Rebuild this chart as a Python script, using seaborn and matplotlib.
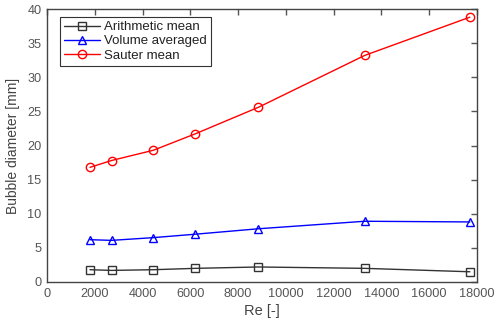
import matplotlib
matplotlib.use("Agg")
import matplotlib.pyplot as plt
import seaborn as sns
import pandas as pd

re_vals = [1800, 2700, 4450, 6200, 8850, 13300, 17700]
arithmetic = [1.8, 1.7, 1.8, 2.0, 2.2, 2.0, 1.5]
volume = [6.2, 6.1, 6.5, 7.0, 7.8, 8.9, 8.8]
sauter = [16.8, 17.8, 19.3, 21.7, 25.6, 33.2, 38.8]
series_names = ["Arithmetic mean", "Volume averaged", "Sauter mean"]
colors = ["#333333", "#0000ff", "#ff0000"]
markers = ["s", "^", "o"]

df = pd.DataFrame({
    "Re": re_vals * 3,
    "d": arithmetic + volume + sauter,
    "series": [series_names[0]] * 7 + [series_names[1]] * 7 + [series_names[2]] * 7,
})

sns.set_style("white")
plt.rcParams["font.family"] = ["Liberation Sans", "DejaVu Sans"]

fig = plt.figure(figsize=(4.96, 3.25), dpi=100)
ax = fig.add_axes([47 / 496, 1 - 282 / 325, 430 / 496, 273 / 325])

sns.lineplot(data=df, x="Re", y="d", hue="series", style="series",
             palette=colors, markers=markers, dashes=False, ax=ax,
             markersize=6, markerfacecolor="none", markeredgewidth=1.0,
             linewidth=1.0)
for line, c in zip(ax.get_lines(), colors):
    line.set_markeredgecolor(c)
    line.set_markerfacecolor("none")

ax.set_xlim(0, 18000)
ax.set_ylim(0, 40)
ax.set_xticks(range(0, 18001, 2000))
ax.set_yticks(range(0, 41, 5))
ax.set_xlabel("Re [-]", fontsize=10.5, color="#444444", labelpad=3)
ax.set_ylabel("Bubble diameter [mm]", fontsize=10, color="#444444", labelpad=5)
ax.tick_params(direction="in", top=True, right=True, length=4, width=1,
               colors="#555555", labelsize=9.2, labelcolor="#555555", pad=4)
for s in ax.spines.values():
    s.set_color("#444444")
    s.set_linewidth(1.0)

h, l = ax.get_legend_handles_labels()
for hh, c in zip(h, colors):
    hh.set_markerfacecolor("none")
    hh.set_markeredgecolor(c)
leg = ax.legend(h, l, loc="upper left", bbox_to_anchor=(0.02, 0.985), fontsize=9.5,
                frameon=True, fancybox=False, edgecolor="#333333", framealpha=1,
                borderpad=0.3, labelspacing=0.15, handlelength=2.8, handletextpad=0.3,
                borderaxespad=0.3)
leg.get_frame().set_linewidth(0.8)
for t in leg.get_texts():
    t.set_color("#222222")

fig.savefig("out.png", dpi=100)
